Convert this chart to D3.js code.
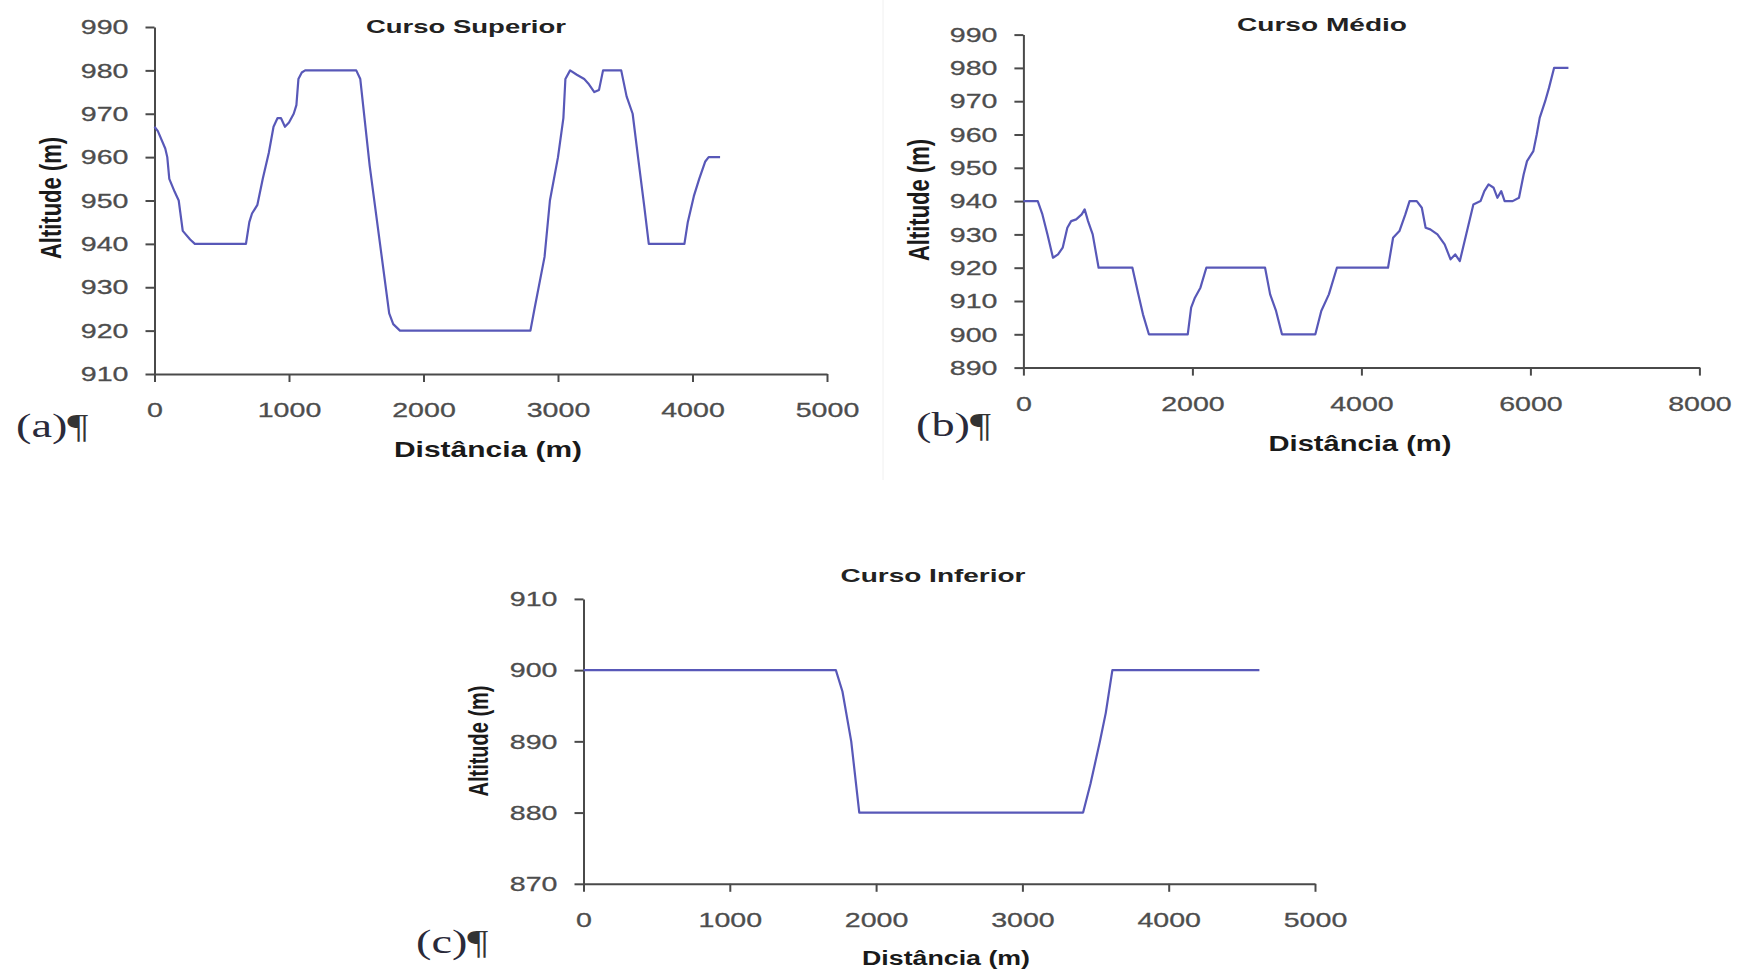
<!DOCTYPE html>
<html>
<head>
<meta charset="utf-8">
<script src="https://cdn.jsdelivr.net/npm/d3@7"></script>
<style>
  body { margin: 0; background: #fff; }
  svg { display: block; }
</style>
</head>
<body>
<div id="chart"></div>
<script>
/* three river profiles - altitude vs distance */

// Curso Superior
const supDist = [0, 25, 80, 95, 110, 150, 180, 210, 265, 300, 680, 705, 725, 765, 805, 850, 885, 915, 940, 970,
  1000, 1035, 1055, 1070, 1095, 1120, 1500, 1530, 1600, 1745, 1775, 1825, 2795, 2825, 2900, 2940, 3000, 3040, 3055, 3090,
  3140, 3195, 3225, 3270, 3305, 3335, 3355, 3470, 3510, 3555, 3595, 3640, 3675, 3940, 3965, 4010, 4050, 4095, 4120, 4205];
const supAlt = [967, 966, 962, 960, 955, 952, 950, 943, 941, 940, 940, 945, 947, 949, 955, 961, 967, 969, 969, 967,
  968, 970, 972, 978, 979.5, 980, 980, 978, 958, 924, 921.5, 920, 920, 925, 937, 950, 960, 969, 978, 980,
  979, 978, 977, 975, 975.5, 980, 980, 980, 974, 970, 960, 949, 940, 940, 945, 951, 955, 959, 960, 960];

// Curso Médio
const medDist = [0, 170, 225, 285, 350, 410, 465, 520, 565, 625, 690, 725, 765, 820, 890, 1290, 1360, 1415, 1485, 1945,
  1985, 2030, 2095, 2165, 2860, 2920, 2990, 3060, 3455, 3525, 3615, 3710, 4315, 4375, 4450, 4520, 4570, 4655, 4715, 4760,
  4815, 4900, 4985, 5055, 5110, 5165, 5240, 5325, 5410, 5455, 5505, 5565, 5610, 5655, 5695, 5790, 5865, 5920, 5960, 6035,
  6075, 6110, 6175, 6220, 6280, 6450];
const medAlt = [940, 940, 936, 930, 923, 924, 926, 932, 934, 934.5, 936, 937.5, 934, 930, 920, 920, 912, 906, 900, 900,
  908, 911, 914, 920, 920, 912, 907, 900, 900, 907, 912, 920, 920, 929, 931, 936, 940, 940, 938, 932,
  931.5, 930, 927, 922.5, 924, 922, 930, 939, 940, 943, 945, 944, 941, 943, 940, 940, 941, 948, 952, 955,
  960, 965, 970, 974, 980, 980];

// Curso Inferior
const infDist = [0, 1725, 1770, 1830, 1885, 3415, 3465, 3530, 3570, 3615, 4620];
const infAlt = [900, 900, 897, 890, 880, 880, 884, 890, 894, 900, 900];

// tick values
const supXTicks = [0, 1000, 2000, 3000, 4000, 5000];
const supYTicks = [910, 920, 930, 940, 950, 960, 970, 980, 990];
const medXTicks = [0, 2000, 4000, 6000, 8000];
const medYTicks = [890, 900, 910, 920, 930, 940, 950, 960, 970, 980, 990];
const infXTicks = [0, 1000, 2000, 3000, 4000, 5000];
const infYTicks = [870, 880, 890, 900, 910];

const width = 1752, height = 971;
const stretch = 1.36; // the source picture is wider than it is tall

const svg = d3.select("#chart")
  .append("svg")
  .attr("width", width)
  .attr("height", height)
  .attr("viewBox", [0, 0, width, height]);

// faint divider between (a) and (b)
svg.append("line")
  .attr("x1", 883).attr("x2", 883)
  .attr("y1", 0).attr("y2", 480)
  .attr("stroke", "#f0f0f0");

const panels = [
  { dist: supDist, alt: supAlt, xTicks: supXTicks, yTicks: supYTicks,
    x0: 154.5, x1: 827, yBot: 374, yTop: 27,
    title: "Curso Superior", titleX: 466, titleY: 33, titleW: 200,
    xlabX: 488, xlabY: 457, xlabW: 188, ylabX: 50, ylabY: 198, labSize: 22,
    tag: "(a)", tagX: 16, tagY: 437 },
  { dist: medDist, alt: medAlt, xTicks: medXTicks, yTicks: medYTicks,
    x0: 1023.4, x1: 1699.4, yBot: 367.6, yTop: 34.6,
    title: "Curso Médio", titleX: 1322, titleY: 31, titleW: 170,
    xlabX: 1360, xlabY: 451, xlabW: 183, ylabX: 918, ylabY: 200, labSize: 22,
    tag: "(b)", tagX: 916, tagY: 436 },
  { dist: infDist, alt: infAlt, xTicks: infXTicks, yTicks: infYTicks,
    x0: 583.5, x1: 1315, yBot: 883.8, yTop: 598.9,
    title: "Curso Inferior", titleX: 933, titleY: 582, titleW: 185,
    xlabX: 946, xlabY: 965, xlabW: 168, ylabX: 478, ylabY: 741, labSize: 20,
    tag: "(c)", tagX: 416, tagY: 953 }
];

for (let p of panels) {
  const g = svg.append("g");

  let x = d3.scaleLinear()
    .domain(d3.extent(p.xTicks))
    .range([p.x0, p.x1]);

  let y = d3.scaleLinear()
    .domain(d3.extent(p.yTicks))
    .range([p.yBot, p.yTop]);

  // axes
  g.append("g")
    .attr("class", "axis")
    .attr("transform", `translate(0,${p.yBot})`)
    .call(d3.axisBottom(x).tickValues(p.xTicks).tickFormat(d3.format("d"))
      .tickSizeInner(8).tickSizeOuter(0).tickPadding(20));

  g.append("g")
    .attr("class", "axis")
    .attr("transform", `translate(${p.x0},0)`)
    .call(d3.axisLeft(y).tickValues(p.yTicks).tickFormat(d3.format("d"))
      .tickSizeInner(9).tickSizeOuter(0).tickPadding(17));

  // the profile line
  const pts = p.dist.map((d, i) => [d, p.alt[i]]);
  const line = d3.line()
    .x(d => x(d[0]))
    .y(d => y(d[1]));

  g.append("path")
    .datum(pts)
    .attr("d", line)
    .attr("fill", "none")
    .attr("stroke", "#5858b8")
    .attr("stroke-width", 2.2)
    .attr("stroke-linejoin", "round");

  // title
  g.append("text")
    .attr("x", p.titleX)
    .attr("y", p.titleY)
    .attr("text-anchor", "middle")
    .attr("font-family", "Liberation Sans, Arial, sans-serif")
    .attr("font-weight", "bold")
    .attr("font-size", 19)
    .attr("fill", "#222")
    .attr("textLength", p.titleW)
    .attr("lengthAdjust", "spacingAndGlyphs")
    .text(p.title);

  // x label
  g.append("text")
    .attr("x", p.xlabX)
    .attr("y", p.xlabY)
    .attr("text-anchor", "middle")
    .attr("font-family", "Liberation Sans, Arial, sans-serif")
    .attr("font-weight", "bold")
    .attr("font-size", p.labSize)
    .attr("fill", "#1a1a1a")
    .attr("textLength", p.xlabW)
    .attr("lengthAdjust", "spacingAndGlyphs")
    .text("Distância (m)");

  // y label, rotated and widened like the rest of the picture
  g.append("text")
    .attr("transform", `translate(${p.ylabX},${p.ylabY}) scale(${stretch},1) rotate(-90)`)
    .attr("text-anchor", "middle")
    .attr("dy", "0.36em")
    .attr("font-family", "Liberation Sans, Arial, sans-serif")
    .attr("font-weight", "bold")
    .attr("font-size", p.labSize)
    .attr("fill", "#1a1a1a")
    .text("Altitude (m)");

  // (a) / (b) / (c) tags from the document
  const tag = g.append("text")
    .attr("class", "wide")
    .attr("x", p.tagX)
    .attr("y", p.tagY)
    .attr("font-family", "Liberation Serif, Times New Roman, serif")
    .attr("font-size", 34)
    .attr("fill", "#2a2a3a");
  tag.append("tspan").text(p.tag);
  tag.append("tspan").attr("fill", "#333").text("¶");
}

svg.selectAll(".axis path, .axis line")
  .attr("stroke", "#4a4a4a")
  .attr("stroke-width", 2);

svg.selectAll(".axis text")
  .attr("class", "wide")
  .attr("font-family", "Liberation Sans, Arial, sans-serif")
  .attr("font-size", 21)
  .attr("fill", "#4d4d4d")
  .attr("stroke", "#4d4d4d")
  .attr("stroke-width", 0.3);

// widen plain texts by the same factor as the source image
svg.selectAll("text.wide").each(function() {
  const w = this.getComputedTextLength();
  d3.select(this)
    .attr("textLength", w * stretch)
    .attr("lengthAdjust", "spacingAndGlyphs");
});
</script>
</body>
</html>
